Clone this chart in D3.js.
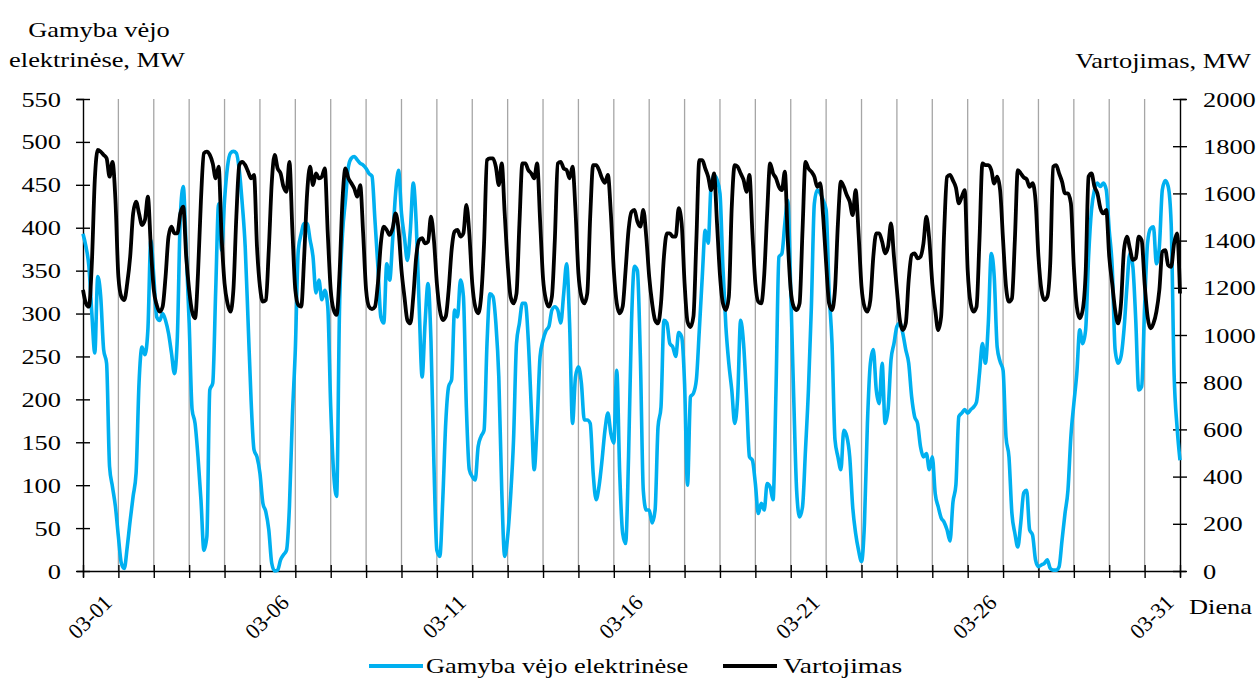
<!DOCTYPE html>
<html>
<head>
<meta charset="utf-8">
<script src="https://cdnjs.cloudflare.com/ajax/libs/d3/7.8.5/d3.min.js"></script>
<style>
  body { margin: 0; background: #fff; }
</style>
</head>
<body>
<svg id="chart" width="1260" height="679"></svg>
<script>
// one reading every 2 hours, day 0 .. day 31
var STEP_HOURS = 2;

var windMW = [
  393, 378, 355, 300, 254, 343, 320, 258, 242, 122, 98, 75,
  40, 9, 3, 28, 59, 87, 114, 219, 261, 252, 281, 386,
  343, 296, 292, 300, 292, 277, 254, 230, 273, 413, 448, 374,
  289, 188, 172, 133, 83, 24, 40, 211, 219, 327, 428, 374,
  432, 471, 487, 489, 487, 467, 428, 378, 289, 199, 141, 133,
  114, 79, 69, 48, 9, 0, 1, 13, 19, 24, 75, 180,
  258, 374, 393, 405, 405, 386, 366, 324, 339, 316, 327, 308,
  191, 114, 87, 308, 393, 432, 471, 481, 483, 479, 475, 473,
  469, 463, 460, 409, 355, 296, 289, 358, 339, 386, 440, 467,
  417, 389, 362, 397, 452, 405, 308, 226, 289, 335, 268, 125,
  24, 17, 83, 172, 215, 223, 304, 296, 339, 320, 191, 118,
  110, 106, 145, 157, 164, 265, 323, 320, 289, 226, 94, 17,
  40, 87, 153, 265, 289, 312, 312, 269, 191, 118, 172, 250,
  269, 280, 285, 304, 308, 304, 289, 323, 358, 289, 172, 226,
  238, 219, 176, 176, 172, 114, 83, 99, 129, 164, 184, 160,
  149, 234, 114, 44, 32, 133, 289, 355, 350, 250, 94, 71,
  71, 56, 71, 168, 191, 292, 289, 265, 261, 250, 278, 273,
  218, 100, 203, 207, 223, 281, 343, 397, 382, 450, 461, 456,
  440, 354, 285, 242, 211, 172, 203, 292, 265, 203, 133, 129,
  102, 67, 79, 71, 102, 98, 83, 211, 366, 370, 405, 432,
  327, 203, 94, 63, 75, 141, 211, 308, 428, 444, 440, 432,
  421, 327, 265, 153, 133, 118, 164, 157, 133, 75, 44, 24,
  11, 56, 172, 242, 258, 211, 195, 242, 172, 188, 246, 265,
  285, 289, 277, 258, 242, 203, 180, 172, 145, 133, 137, 118,
  133, 90, 75, 62, 57, 48, 35, 80, 100, 180, 184, 188,
  184, 188, 191, 197, 230, 265, 242, 289, 370, 343, 261, 244,
  234, 156, 133, 67, 44, 28, 56, 91, 94, 48, 42, 13,
  5, 7, 9, 13, 3, 1, 1, 5, 36, 67, 94, 157,
  195, 230, 281, 265, 281, 366, 421, 444, 452, 448, 452, 444,
  397, 355, 258, 242, 250, 281, 331, 370, 355, 292, 211, 215,
  308, 382, 399, 401, 358, 378, 444, 455, 448, 405, 230, 168,
  129
];

var loadMW = [
  1191, 1134, 1120, 1304, 1657, 1784, 1777, 1763, 1749, 1671, 1734, 1572,
  1247, 1162, 1148, 1219, 1332, 1515, 1565, 1515, 1466, 1487, 1586, 1374,
  1191, 1127, 1099, 1120, 1247, 1417, 1459, 1431, 1431, 1515, 1544, 1332,
  1191, 1099, 1071, 1261, 1572, 1770, 1777, 1763, 1727, 1664, 1713, 1417,
  1219, 1134, 1099, 1191, 1501, 1720, 1734, 1720, 1692, 1664, 1678, 1374,
  1205, 1141, 1148, 1360, 1643, 1763, 1706, 1685, 1628, 1607, 1734, 1445,
  1191, 1127, 1120, 1332, 1600, 1713, 1635, 1685, 1664, 1671, 1706, 1431,
  1191, 1106, 1085, 1261, 1572, 1706, 1664, 1643, 1621, 1586, 1635, 1431,
  1191, 1120, 1110, 1120, 1219, 1388, 1459, 1445, 1424, 1452, 1515, 1445,
  1275, 1162, 1063, 1049, 1162, 1332, 1402, 1410, 1388, 1395, 1501, 1402,
  1219, 1106, 1063, 1078, 1191, 1360, 1438, 1445, 1417, 1431, 1551, 1431,
  1219, 1120, 1092, 1162, 1388, 1741, 1748, 1748, 1713, 1635, 1727, 1515,
  1304, 1162, 1134, 1176, 1473, 1727, 1727, 1699, 1685, 1664, 1727, 1487,
  1240, 1148, 1120, 1162, 1402, 1727, 1734, 1706, 1699, 1664, 1713, 1529,
  1261, 1162, 1134, 1176, 1501, 1720, 1720, 1699, 1664, 1645, 1678, 1515,
  1275, 1134, 1092, 1120, 1275, 1445, 1522, 1530, 1480, 1459, 1530, 1417,
  1247, 1134, 1063, 1049, 1134, 1332, 1431, 1431, 1417, 1417, 1537, 1473,
  1219, 1056, 1034, 1078, 1402, 1741, 1741, 1706, 1671, 1614, 1685, 1473,
  1254, 1134, 1106, 1162, 1544, 1720, 1713, 1685, 1657, 1607, 1678, 1431,
  1219, 1141, 1134, 1254, 1515, 1727, 1685, 1664, 1628, 1614, 1692, 1402,
  1191, 1120, 1106, 1134, 1445, 1734, 1706, 1692, 1671, 1628, 1643, 1501,
  1304, 1134, 1106, 1191, 1473, 1650, 1628, 1593, 1565, 1508, 1614, 1431,
  1205, 1120, 1099, 1148, 1332, 1431, 1431, 1395, 1346, 1374, 1473, 1332,
  1191, 1063, 1021, 1049, 1233, 1339, 1346, 1325, 1332, 1388, 1501, 1402,
  1219, 1106, 1021, 1078, 1430, 1670, 1678, 1655, 1625, 1558, 1586, 1614,
  1275, 1134, 1099, 1120, 1402, 1727, 1720, 1720, 1699, 1642, 1671, 1614,
  1402, 1205, 1141, 1155, 1402, 1699, 1685, 1668, 1660, 1628, 1643, 1572,
  1332, 1191, 1148, 1162, 1304, 1713, 1720, 1685, 1650, 1600, 1600, 1558,
  1289, 1120, 1071, 1106, 1261, 1671, 1685, 1628, 1600, 1537, 1515, 1530,
  1332, 1219, 1106, 1049, 1134, 1360, 1417, 1367, 1318, 1325, 1417, 1402,
  1219, 1078, 1028, 1049, 1099, 1191, 1353, 1360, 1296, 1289, 1388, 1431,
  1176
];

var leftTicks = [0, 50, 100, 150, 200, 250, 300, 350, 400, 450, 500, 550];
var rightTicks = [0, 200, 400, 600, 800, 1000, 1200, 1400, 1600, 1800, 2000];
var dayTicks = d3.range(0, 32);
var labelledDays = [1, 6, 11, 16, 21, 26, 31];

var seriesNames = ['Gamyba vėjo elektrinėse', 'Vartojimas'];
var seriesColors = ['#00b0f0', '#000000'];

var FONT = '"Liberation Serif", "Times New Roman", "DejaVu Serif", serif';
var WIDE = 1.2;   // horizontal text in the original is set wide


function draw(svg) {
  var plot = {left: 83, right: 1180, top: 99, bottom: 571};

  var x = d3.scaleLinear()
    .domain([0, 31])
    .range([plot.left, plot.right]);

  var yWind = d3.scaleLinear()
    .domain([0, 550])
    .range([plot.bottom, plot.top]);

  var yLoad = d3.scaleLinear()
    .domain([0, 2000])
    .range([plot.bottom, plot.top]);

  svg.call(drawGrid, x, plot)
    .call(drawAxes, x, yWind, yLoad, plot)
    .call(drawSeries, x, yWind, windMW, seriesColors[0], 3.6)
    .call(drawSeries, x, yLoad, loadMW, seriesColors[1], 3.8)
    .call(drawTitles)
    .call(drawLegend);

  svg.selectAll('text')
    .style('font-family', FONT)
    .style('font-size', '22px')
    .style('fill', '#000');
}


function drawGrid(svg, x, plot) {
  svg.append('g')
    .selectAll('line')
    .data(dayTicks.slice(1, -1))
    .enter()
    .append('line')
      .attr('x1', x)
      .attr('x2', x)
      .attr('y1', plot.top)
      .attr('y2', plot.bottom)
      .attr('stroke', '#a6a6a6')
      .attr('stroke-width', 1.3);
}


function drawAxes(svg, x, yWind, yLoad, plot) {
  var left = svg.append('g')
    .attr('transform', translate(plot.left, 0))
    .call(d3.axisLeft(yWind).tickValues(leftTicks).tickFormat(d3.format('d')));

  var right = svg.append('g')
    .attr('transform', translate(plot.right, 0))
    .call(d3.axisRight(yLoad).tickValues(rightTicks).tickFormat(d3.format('d')));

  var bottom = svg.append('g')
    .attr('transform', translate(0, plot.bottom))
    .call(d3.axisBottom(x).tickValues(dayTicks).tickFormat(''));

  [left, right, bottom].forEach(function(g) {
    g.attr('font-family', null).attr('font-size', null);
    g.select('.domain')
      .attr('stroke', '#000')
      .attr('stroke-width', 1.4);
    g.selectAll('.tick line')
      .attr('stroke', '#000')
      .attr('stroke-width', 1.4);
  });

  // ticks cross the axis line on both sides
  left.selectAll('.tick line').attr('x1', -7).attr('x2', 7);
  right.selectAll('.tick line').attr('x1', -7).attr('x2', 7);
  bottom.selectAll('.tick line').attr('y1', -6).attr('y2', 7);

  left.selectAll('.tick text')
    .attr('x', 0)
    .attr('dy', null)
    .attr('transform', 'translate(-22,7) scale(' + WIDE + ',1)');

  right.selectAll('.tick text')
    .attr('x', 0)
    .attr('dy', null)
    .attr('transform', 'translate(23,7) scale(' + WIDE + ',1)');

  svg.append('g')
    .selectAll('text')
    .data(labelledDays)
    .enter()
    .append('text')
      .attr('text-anchor', 'end')
      .attr('transform', function(d) {
        return translate(x(d) - 5, plot.bottom + 33) + ' rotate(-45)';
      })
      .text(function(d) {
        return '03-' + d3.format('02d')(d);
      });
}


function drawSeries(svg, x, y, values, color, width) {
  var line = d3.line()
    .x(function(d, i) {
      return x(i * STEP_HOURS / 24);
    })
    .y(function(d) {
      return y(d);
    })
    .curve(d3.curveMonotoneX);

  svg.append('path')
    .datum(values)
    .attr('fill', 'none')
    .attr('stroke', color)
    .attr('stroke-width', width)
    .attr('stroke-linejoin', 'round')
    .attr('d', line);
}


function wideText(svg, x, y, anchor, str) {
  return svg.append('text')
    .attr('text-anchor', anchor)
    .attr('transform', translate(x, y) + ' scale(' + WIDE + ',1)')
    .text(str);
}


function drawTitles(svg) {
  wideText(svg, 99, 37, 'middle', 'Gamyba vėjo');
  wideText(svg, 97, 67, 'middle', 'elektrinėse, MW');
  wideText(svg, 1251, 68, 'end', 'Vartojimas, MW');
  wideText(svg, 1189, 614, 'start', 'Diena');
}


function drawLegend(svg) {
  var items = svg.append('g')
    .selectAll('g')
    .data(seriesNames)
    .enter()
    .append('g')
      .attr('transform', function(d, i) {
        return translate(i ? 723 : 369, 666);
      });

  items.append('line')
    .attr('x1', 0)
    .attr('x2', 54)
    .attr('stroke', function(d, i) {
      return seriesColors[i];
    })
    .attr('stroke-width', 4);

  items.append('text')
    .attr('transform', function(d, i) {
      return 'translate(' + (i ? 60 : 57) + ',7) scale(' + (i ? 1.25 : WIDE) + ',1)';
    })
    .text(function(d) {
      return d;
    });
}


function translate(x, y) {
  return 'translate(' + x + ',' + y + ')';
}


draw(d3.select('#chart'));
</script>
</body>
</html>
